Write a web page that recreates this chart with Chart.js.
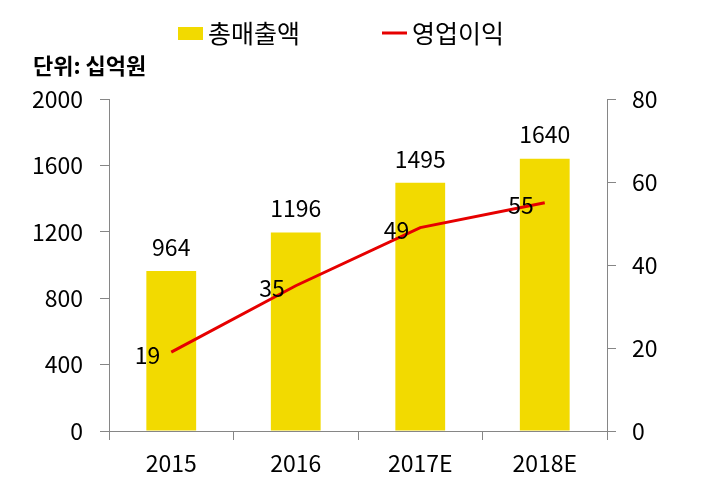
<!DOCTYPE html>
<html>
<head>
<meta charset="utf-8">
<script src="https://cdn.jsdelivr.net/npm/chart.js@4"></script>
<style>
  body { margin: 0; background: #fff; }
  #wrap { width: 703px; height: 499px; }
</style>
</head>
<body>
<div id="wrap"><canvas id="salesChart" width="703" height="499"></canvas></div>
<script>
// ===== DATA =====
const years = ['2015', '2016', '2017E', '2018E'];
const sales = [964, 1196, 1495, 1640];       // 총매출액 (left axis)
const opProfit = [19, 35, 49, 55];           // 영업이익 (right axis)
const salesTicks = [0, 400, 800, 1200, 1600, 2000];
const profitTicks = [0, 20, 40, 60, 80];

const FONT = "'Noto Sans CJK KR', 'Noto Sans', sans-serif";
const YELLOW = '#F2DA00';
const RED = '#E60000';
const AXIS = '#868686';

Chart.defaults.font.family = FONT;
Chart.defaults.color = '#000';

// ===== LEGEND + UNIT TITLE =====
const headerPlugin = {
  id: 'header',
  afterDraw(chart) {
    const ctx = chart.ctx;
    const ds = chart.data.datasets;
    ctx.save();
    ctx.textBaseline = 'middle';
    ctx.textAlign = 'left';
    ctx.font = '25px ' + FONT;
    ctx.fillStyle = YELLOW;
    ctx.fillRect(178, 27, 25, 13);
    ctx.fillStyle = '#000';
    ctx.fillText(ds[0].label, 208, 33);
    ctx.strokeStyle = RED;
    ctx.lineWidth = 3;
    ctx.beginPath();
    ctx.moveTo(382, 33);
    ctx.lineTo(407, 33);
    ctx.stroke();
    ctx.fillText(ds[1].label, 412, 33);
    ctx.font = 'bold 22px ' + FONT;
    ctx.fillText('단위: 십억원', 33, 66);
    ctx.restore();
  }
};

// ===== VALUE LABELS =====
const valueLabels = {
  id: 'valueLabels',
  afterDatasetsDraw(chart) {
    const ctx = chart.ctx;
    ctx.save();
    ctx.font = '23px ' + FONT;
    ctx.fillStyle = '#000';
    ctx.textBaseline = 'middle';
    chart.getDatasetMeta(0).data.forEach((bar, i) => {
      ctx.textAlign = 'center';
      ctx.fillText(sales[i], bar.x, bar.y - 24);
    });
    chart.getDatasetMeta(1).data.forEach((pt, i) => {
      ctx.textAlign = 'right';
      ctx.fillText(opProfit[i], pt.x - 11, pt.y + 3);
    });
    ctx.restore();
  }
};

const plainTick = v => String(v);

new Chart(document.getElementById('salesChart'), {
  type: 'bar',
  data: {
    labels: years,
    datasets: [
      {
        type: 'bar', label: '총매출액', data: sales, yAxisID: 'y',
        backgroundColor: YELLOW, borderWidth: 0,
        barPercentage: 0.4, categoryPercentage: 1, order: 2
      },
      {
        type: 'line', label: '영업이익', data: opProfit, yAxisID: 'y1',
        borderColor: RED, borderWidth: 3, pointRadius: 0, tension: 0, fill: false, order: 1
      }
    ]
  },
  options: {
    responsive: false,
    animation: false,
    layout: { padding: { top: 99, left: 0, right: 0, bottom: 0 } },
    plugins: { legend: { display: false }, tooltip: { enabled: false } },
    scales: {
      x: {
        offset: true,
        grid: { offset: true, drawOnChartArea: false, tickLength: 9, tickColor: AXIS },
        border: { color: AXIS },
        ticks: { font: { size: 23 }, padding: 9, color: '#000' },
        afterFit: s => { s.height = 68; }
      },
      y: {
        position: 'left', min: 0, max: 2000,
        afterBuildTicks: s => { s.ticks = salesTicks.map(v => ({ value: v })); },
        grid: { drawOnChartArea: false, tickLength: 9, tickColor: AXIS },
        border: { color: AXIS },
        ticks: { font: { size: 23 }, padding: 17, color: '#000', callback: plainTick },
        afterFit: s => { s.width = 109; }
      },
      y1: {
        position: 'right', min: 0, max: 80,
        afterBuildTicks: s => { s.ticks = profitTicks.map(v => ({ value: v })); },
        grid: { drawOnChartArea: false, tickLength: 9, tickColor: AXIS },
        border: { color: AXIS },
        ticks: { font: { size: 23 }, padding: 16, color: '#000', callback: plainTick },
        afterFit: s => { s.width = 96; }
      }
    }
  },
  plugins: [headerPlugin, valueLabels]
});
</script>
</body>
</html>
